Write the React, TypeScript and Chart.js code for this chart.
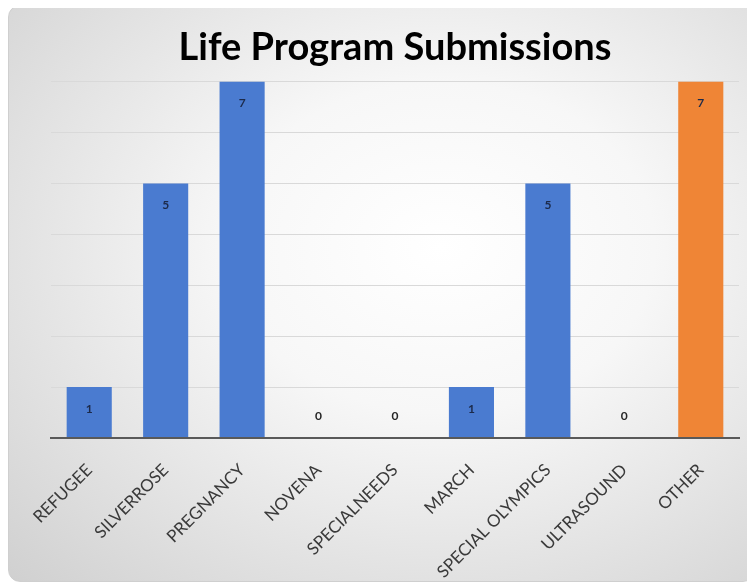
import React, { useEffect, useRef } from "react";
import { Chart, registerables } from "chart.js";

Chart.register(...registerables);

const categories = ["REFUGEE", "SILVERROSE", "PREGNANCY", "NOVENA", "SPECIALNEEDS", "MARCH", "SPECIAL OLYMPICS", "ULTRASOUND", "OTHER"];
const submissions = [1, 5, 7, 0, 0, 1, 5, 0, 7];
const barColors = ["#4a7bd0", "#4a7bd0", "#4a7bd0", "#4a7bd0", "#4a7bd0", "#4a7bd0", "#4a7bd0", "#4a7bd0", "#ef8536"];
const yTicks = [0, 1, 2, 3, 4, 5, 6, 7];

const labelPlugin = {
  id: "valueLabels",
  afterDatasetsDraw(chart: any) {
    const ctx = chart.ctx;
    const meta = chart.getDatasetMeta(0);
    ctx.save();
    ctx.font = "bold 12px Lato";
    ctx.textAlign = "center";
    ctx.textBaseline = "middle";
    meta.data.forEach((bar: any, i: number) => {
      const v = submissions[i];
      if (v > 0) {
        ctx.fillStyle = "#1c2a4a";
        ctx.fillText(String(v), bar.x, bar.y + 22);
      } else {
        ctx.fillStyle = "#262626";
        ctx.fillText(String(v), bar.x, bar.y - 22);
      }
    });
    ctx.restore();
  },
};

export default function App() {
  const ref = useRef<HTMLCanvasElement | null>(null);
  useEffect(() => {
    if (!ref.current) return;
    const chart = new Chart(ref.current, {
      type: "bar",
      data: {
        labels: categories,
        datasets: [
          {
            data: submissions,
            backgroundColor: barColors,
            barPercentage: 0.59,
            categoryPercentage: 1,
          },
        ],
      },
      options: {
        animation: false,
        responsive: false,
        maintainAspectRatio: false,
        layout: { padding: { left: 42, right: 17, top: 8, bottom: 0 } },
        plugins: {
          legend: { display: false },
          tooltip: { enabled: false },
          title: {
            display: true,
            text: "Life Program Submissions",
            color: "#000000",
            font: { family: "Lato", size: 38, weight: "bold" },
            padding: { top: 11, bottom: 11 },
          },
        },
        scales: {
          x: {
            grid: { display: false },
            border: { display: true, color: "#595959", width: 2 },
            afterFit: (axis: any) => {
              axis.height = 145;
            },
            ticks: {
              color: "#3a3a3a",
              font: { family: "Lato", size: 17 },
              maxRotation: 45,
              minRotation: 45,
              padding: 14,
            },
          },
          y: {
            min: 0,
            max: 7,
            afterBuildTicks: (axis: any) => {
              axis.ticks = yTicks.map((v) => ({ value: v }));
            },
            ticks: { display: false },
            border: { display: false },
            grid: {
              color: (c: any) => (c.tick && c.tick.value === 0 ? "#595959" : "#d9d9d9"),
              lineWidth: (c: any) => (c.tick && c.tick.value === 0 ? 2 : 1),
              drawTicks: false,
            },
          },
        },
      },
      plugins: [labelPlugin],
    });
    return () => chart.destroy();
  }, []);

  return (
    <div
      style={{
        position: "relative",
        marginTop: -3,
        width: 747,
        height: 577,
        boxSizing: "border-box",
        border: "1px solid #cfcfcf",
        borderRadius: 12,
        background: "radial-gradient(ellipse at 58% 42%, #ffffff 0%, #f7f7f7 35%, #d0d0d0 100%)",
        overflow: "hidden",
      }}
    >
      <canvas ref={ref} width={747} height={577} style={{ display: "block", width: 747, height: 577 }} />
    </div>
  );
}
